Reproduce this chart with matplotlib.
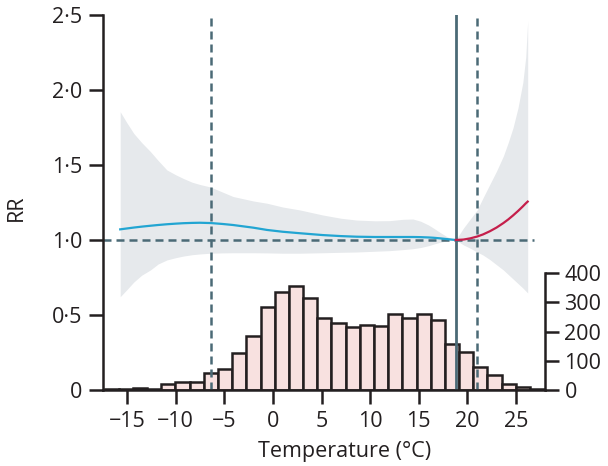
import matplotlib
matplotlib.use("Agg")
import matplotlib.pyplot as plt
import numpy as np

# ---------------- data ----------------
# histogram of daily temperatures (bin edges, °C) and counts
bin_edges = [-17.31, -15.85, -14.39, -12.94, -11.48, -10.02, -8.56, -7.10, -5.65,
             -4.19, -2.73, -1.27, 0.19, 1.64, 3.10, 4.56, 6.02, 7.48, 8.93, 10.39,
             11.85, 13.31, 14.77, 16.22, 17.68, 19.14, 20.60, 22.06, 23.51, 24.97,
             26.43, 27.89]
counts = [2, 2, 8, 3, 19, 28, 28, 58, 72, 128, 186, 285, 336, 357, 313, 245,
          228, 214, 222, 219, 259, 245, 259, 239, 156, 130, 78, 51, 19, 9, 3]

# exposure-response curve, cold side (blue)
temp_cold = [-15.7, -15.0, -14.3, -13.5, -12.6, -11.8, -10.9, -10.0, -9.2, -8.3,
             -7.5, -6.4, -5.2, -4.1, -2.0, -0.6, 1.0, 2.8, 5.1, 7.0, 8.6, 10.5,
             12.0, 13.4, 14.4, 15.2, 16.0, 16.5, 17.2, 17.9, 18.8]
rr_cold = [1.071, 1.077, 1.083, 1.089, 1.095, 1.100, 1.105, 1.109, 1.112, 1.114,
           1.115, 1.113, 1.107, 1.100, 1.082, 1.067, 1.055, 1.045, 1.033, 1.026,
           1.022, 1.020, 1.020, 1.020, 1.020, 1.019, 1.017, 1.015, 1.011, 1.006, 1.000]
hi_cold = [1.855, 1.78, 1.71, 1.65, 1.59, 1.53, 1.467, 1.435, 1.41, 1.385, 1.37,
           1.353, 1.32, 1.29, 1.26, 1.245, 1.22, 1.20, 1.167, 1.145, 1.133, 1.128,
           1.129, 1.138, 1.14, 1.125, 1.10, 1.08, 1.05, 1.022, 1.0]
lo_cold = [0.622, 0.67, 0.72, 0.765, 0.80, 0.84, 0.867, 0.882, 0.893, 0.902, 0.907,
           0.912, 0.914, 0.915, 0.915, 0.914, 0.912, 0.912, 0.915, 0.918, 0.92,
           0.925, 0.929, 0.936, 0.942, 0.95, 0.962, 0.972, 0.985, 0.995, 1.0]

# hot side (red)
temp_hot = [18.8, 19.6, 20.3, 21.0, 21.6, 22.3, 23.0, 23.7, 24.2, 24.7, 25.2,
            25.7, 26.0, 26.2]
rr_hot = [1.0, 1.003, 1.011, 1.023, 1.037, 1.058, 1.083, 1.113, 1.137, 1.164,
          1.193, 1.224, 1.244, 1.256]
hi_hot = [1.0, 1.08, 1.14, 1.20, 1.28, 1.37, 1.46, 1.56, 1.65, 1.75, 1.88,
          2.05, 2.22, 2.46]
lo_hot = [1.0, 0.967, 0.945, 0.92, 0.90, 0.87, 0.835, 0.80, 0.77, 0.74, 0.71,
          0.68, 0.66, 0.647]

mmt = 18.8          # minimum mortality temperature
pct_lo = -6.4       # lower percentile
pct_hi = 21.0       # upper percentile

xticks = [-15, -10, -5, 0, 5, 10, 15, 20, 25]
yticks = [0, 0.5, 1.0, 1.5, 2.0, 2.5]
ytick_labels = ['0', '0·5', '1·0', '1·5', '2·0', '2·5']
count_ticks = [0, 100, 200, 300, 400]

# ---------------- style ----------------
plt.rcParams['font.family'] = ['Open Sans', 'DejaVu Sans']
dark = '#231f20'
slate = '#4b6a76'
band = '#e6e9ec'
blue = '#22a5d2'
red = '#c51f4b'
pink = '#f8e1e0'
fs = 15.5

fig = plt.figure(figsize=(6.08, 4.66), dpi=100)
ax = fig.add_axes([103/608, 1-390/466, 442/608, 375/466])
ax2 = ax.twinx()
ax.set_zorder(ax2.get_zorder() + 1)
ax.patch.set_visible(False)

# histogram
widths = np.diff(bin_edges)
ax2.bar(bin_edges[:-1], counts, width=widths, align='edge', color=pink,
        edgecolor=dark, linewidth=1.8)
ax2.set_ylim(0, 400 * 375 / 117)
ax2.set_yticks(count_ticks)
ax2.set_yticklabels([str(c) for c in count_ticks])
for s in ['top', 'left', 'bottom']:
    ax2.spines[s].set_visible(False)
ax2.spines['right'].set_bounds(0, 400)
ax2.spines['right'].set_linewidth(1.8)
ax2.spines['right'].set_color(dark)
ax2.tick_params(axis='y', length=10, width=1.8, color=dark, labelsize=fs,
                labelcolor=dark, pad=4)

# CI bands and curves
ax.fill_between(temp_cold, lo_cold, hi_cold, color=band, linewidth=0)
ax.fill_between(temp_hot, lo_hot, hi_hot, color=band, linewidth=0)

dash = (3.2, 2.0)
ax.axhline(1.0, xmin=0, xmax=(26.8 + 17.47) / (27.98 + 17.47), color=slate,
           lw=1.8, dashes=dash)
ax.axvline(pct_lo, color=slate, lw=1.8, dashes=dash)
ax.axvline(pct_hi, color=slate, lw=1.8, dashes=dash)
ax.axvline(mmt, color=slate, lw=2.0)

ax.plot(temp_cold, rr_cold, color=blue, lw=1.6)
ax.plot(temp_hot, rr_hot, color=red, lw=1.6)

ax.set_xlim(-17.47, 27.98)
ax.set_ylim(0, 2.5)
ax.set_xticks(xticks)
ax.set_xticklabels([str(t).replace('-', '\u2212') for t in xticks])
ax.set_yticks(yticks)
ax.set_yticklabels(ytick_labels)
for s in ['top', 'right']:
    ax.spines[s].set_visible(False)
for s in ['left', 'bottom']:
    ax.spines[s].set_linewidth(1.8)
    ax.spines[s].set_color(dark)
ax.tick_params(axis='both', length=10, width=1.8, color=dark, labelsize=fs,
               labelcolor=dark)
ax.tick_params(axis='y', pad=5)
ax.tick_params(axis='x', pad=5)

ax.set_ylabel('RR', fontsize=fs, color=dark)
ax.yaxis.set_label_coords(-0.195, 0.485)
ax.yaxis.label.set_va('center')
ax.set_xlabel('Temperature (°C)', fontsize=fs, color=dark)
ax.xaxis.set_label_coords(0.547, -0.165)
ax.xaxis.label.set_va('center')

fig.savefig('out.png', dpi=100)
